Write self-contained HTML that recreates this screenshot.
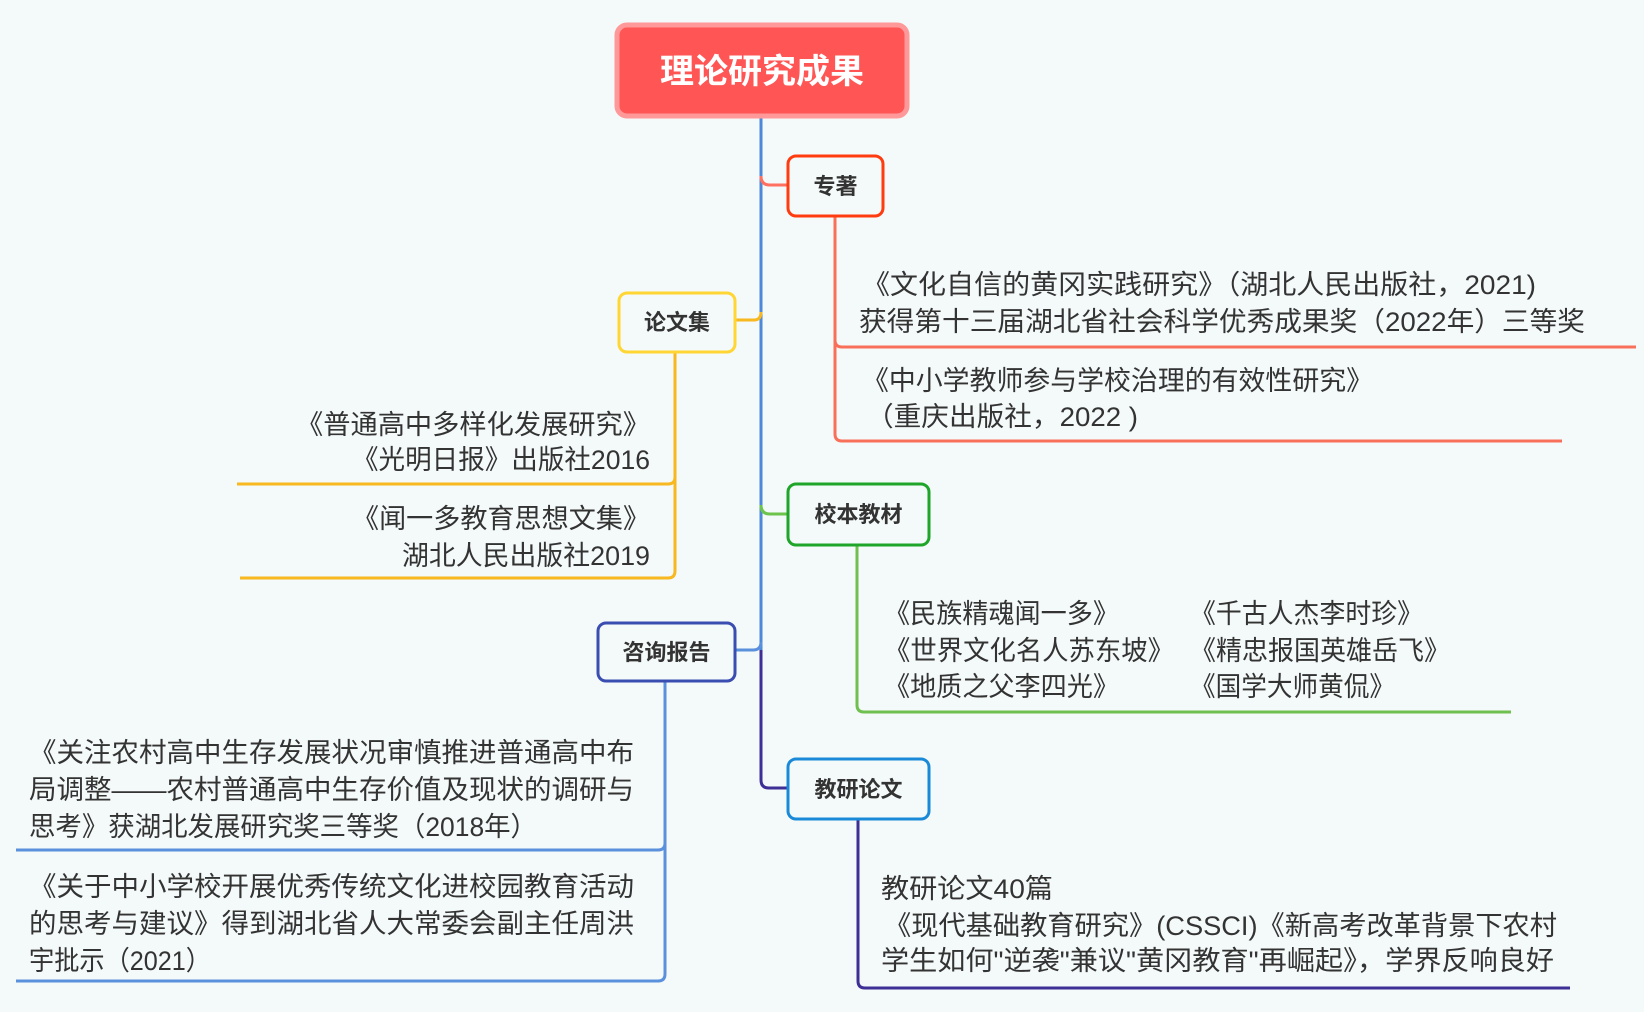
<!DOCTYPE html>
<html><head><meta charset="utf-8"><style>
html,body{margin:0;padding:0;background:#f4f9f9;}
svg{display:block}
text{font-family:"Liberation Sans","Noto Sans CJK SC",sans-serif;fill:#333;}
.t{font-size:27px;}
.b{font-size:22px;font-weight:bold;}
</style></head><body>
<svg width="1644" height="1012" viewBox="0 0 1644 1012" xmlns="http://www.w3.org/2000/svg">
<rect width="1644" height="1012" fill="#f4f9f9"/>
<!-- trunk -->
<path d="M761 118 V650" stroke="#4e88d8" stroke-width="3" fill="none"/>
<path d="M761 650 V780 Q761 788 769 788 H788" stroke="#3d2f96" stroke-width="3" fill="none"/>
<!-- connectors -->
<path d="M761 176 Q761 185 770 185 H787" stroke="#ff7060" stroke-width="3" fill="none"/>
<path d="M736 320 H754 Q761 320 761 312" stroke="#f8b820" stroke-width="3" fill="none"/>
<path d="M761 505 Q761 514 770 514 H787" stroke="#6cc44c" stroke-width="3" fill="none"/>
<path d="M736 650 H753 Q761 650 761 642" stroke="#5a90dc" stroke-width="3" fill="none"/>
<!-- child lines -->
<path d="M835 217 V340 Q835 347 842 347 H1636" stroke="#f8705a" stroke-width="3" fill="none"/>
<path d="M835 340 V434 Q835 441 842 441 H1562" stroke="#f8705a" stroke-width="3" fill="none"/>
<path d="M675 353 V477 Q675 484 668 484 H237" stroke="#f8b820" stroke-width="3" fill="none"/>
<path d="M675 477 V571 Q675 578 668 578 H240" stroke="#f8b820" stroke-width="3" fill="none"/>
<path d="M857 546 V705 Q857 712 864 712 H1511" stroke="#70c050" stroke-width="3" fill="none"/>
<path d="M665 682 V843 Q665 850 658 850 H16" stroke="#5a90dc" stroke-width="3" fill="none"/>
<path d="M665 843 V974 Q665 981 658 981 H16" stroke="#5a90dc" stroke-width="3" fill="none"/>
<path d="M858 820 V981 Q858 988 865 988 H1570" stroke="#3d2f96" stroke-width="3" fill="none"/>
<!-- root -->
<rect x="617" y="25" width="290" height="91" rx="10" fill="#ff5555" stroke="#ff9898" stroke-width="5"/>
<text x="762" y="83" text-anchor="middle" style="font-size:34px;font-weight:bold;fill:#fff">理论研究成果</text>
<!-- nodes -->
<rect x="788" y="156" width="95" height="60" rx="8" fill="#f4f9f9" stroke="#ff3b10" stroke-width="3"/>
<text class="b" x="835.5" y="194" text-anchor="middle">专著</text>
<rect x="619" y="293" width="116" height="59" rx="8" fill="#f4f9f9" stroke="#ffd633" stroke-width="3"/>
<text class="b" x="677" y="330" text-anchor="middle">论文集</text>
<rect x="788" y="484" width="141" height="61" rx="8" fill="#f4f9f9" stroke="#1fa52a" stroke-width="3"/>
<text class="b" x="858.5" y="522" text-anchor="middle">校本教材</text>
<rect x="598" y="623" width="137" height="58" rx="8" fill="#f4f9f9" stroke="#3a4db0" stroke-width="3"/>
<text class="b" x="666.5" y="660" text-anchor="middle">咨询报告</text>
<rect x="788" y="759" width="141" height="60" rx="8" fill="#f4f9f9" stroke="#1a8ad8" stroke-width="3"/>
<text class="b" x="858.5" y="797" text-anchor="middle">教研论文</text>
<!-- 专著 texts -->
<text class="t" x="862" y="294" textLength="674" lengthAdjust="spacingAndGlyphs">《文化自信的黄冈实践研究》（湖北人民出版社，2021)</text>
<text class="t" x="859" y="331" textLength="726" lengthAdjust="spacingAndGlyphs">获得第十三届湖北省社会科学优秀成果奖（2022年）三等奖</text>
<text class="t" x="862" y="390" textLength="511" lengthAdjust="spacingAndGlyphs">《中小学教师参与学校治理的有效性研究》</text>
<text class="t" x="866" y="426" textLength="272" lengthAdjust="spacingAndGlyphs">（重庆出版社，2022 )</text>
<!-- 论文集 texts -->
<text class="t" x="296" y="434" textLength="354" lengthAdjust="spacingAndGlyphs">《普通高中多样化发展研究》</text>
<text class="t" x="352" y="469" textLength="298" lengthAdjust="spacingAndGlyphs">《光明日报》出版社2016</text>
<text class="t" x="352" y="528" textLength="298" lengthAdjust="spacingAndGlyphs">《闻一多教育思想文集》</text>
<text class="t" x="402" y="565" textLength="248" lengthAdjust="spacingAndGlyphs">湖北人民出版社2019</text>
<!-- 校本 texts -->
<text class="t" x="884" y="623" textLength="235" lengthAdjust="spacingAndGlyphs">《民族精魂闻一多》</text>
<text class="t" x="884" y="660" textLength="290" lengthAdjust="spacingAndGlyphs">《世界文化名人苏东坡》</text>
<text class="t" x="884" y="696" textLength="235" lengthAdjust="spacingAndGlyphs">《地质之父李四光》</text>
<text class="t" x="1190" y="623" textLength="233" lengthAdjust="spacingAndGlyphs">《千古人杰李时珍》</text>
<text class="t" x="1190" y="660" textLength="260" lengthAdjust="spacingAndGlyphs">《精忠报国英雄岳飞》</text>
<text class="t" x="1190" y="696" textLength="205" lengthAdjust="spacingAndGlyphs">《国学大师黄侃》</text>
<!-- 咨询 texts -->
<text class="t" x="29" y="762" textLength="605" lengthAdjust="spacingAndGlyphs">《关注农村高中生存发展状况审慎推进普通高中布</text>
<text class="t" x="29" y="799" textLength="605" lengthAdjust="spacingAndGlyphs">局调整——农村普通高中生存价值及现状的调研与</text>
<text class="t" x="29" y="836" textLength="508" lengthAdjust="spacingAndGlyphs">思考》获湖北发展研究奖三等奖（2018年）</text>
<text class="t" x="29" y="896" textLength="605" lengthAdjust="spacingAndGlyphs">《关于中小学校开展优秀传统文化进校园教育活动</text>
<text class="t" x="29" y="933" textLength="605" lengthAdjust="spacingAndGlyphs">的思考与建议》得到湖北省人大常委会副主任周洪</text>
<text class="t" x="29" y="970" textLength="182" lengthAdjust="spacingAndGlyphs">宇批示（2021）</text>
<!-- 教研 texts -->
<text class="t" x="881" y="898" textLength="172" lengthAdjust="spacingAndGlyphs">教研论文40篇</text>
<text class="t" x="884" y="935" textLength="673" lengthAdjust="spacingAndGlyphs">《现代基础教育研究》(CSSCI)《新高考改革背景下农村</text>
<text class="t" x="881" y="970" textLength="673" lengthAdjust="spacingAndGlyphs">学生如何"逆袭"兼议"黄冈教育"再崛起》，学界反响良好</text>
</svg>
</body></html>
